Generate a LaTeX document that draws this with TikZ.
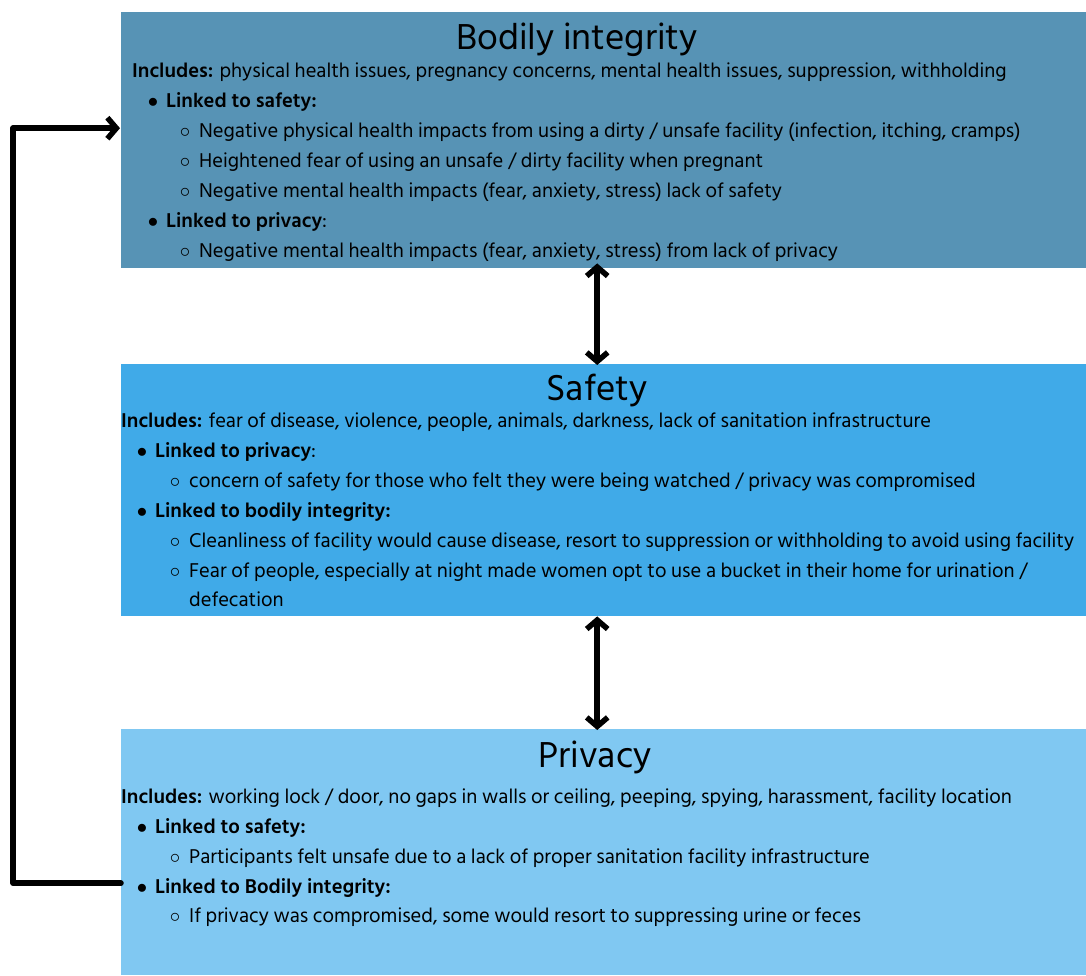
\documentclass[tikz,border=0pt]{standalone}
\usepackage{fontspec}
\setmainfont{Hind Siliguri}
\usepackage{tikz}
\usetikzlibrary{arrows.meta,positioning}
\usepackage{xcolor}
\definecolor{bodycol}{HTML}{5793B5}
\definecolor{safecol}{HTML}{40AAE8}
\definecolor{privcol}{HTML}{80C8F2}

\begin{document}
\begin{tikzpicture}[x=1pt, y=-1pt, every node/.style={inner sep=0pt, font=\fontsize{20.5}{24}\selectfont}]
\tikzset{area/.style={anchor=north west, minimum width=965pt, minimum height=#1, draw=none}}
\tikzset{head/.style={font=\fontsize{37}{40}\selectfont}}
\tikzset{line/.style={anchor=mid west}}
\tikzset{conn/.style={line width=5.5pt, line cap=round, line join=round}}
\tikzset{tip/.style={-{Straight Barb[length=9pt,width=21pt,line width=5.5pt]}}}
\tikzset{dtip/.style={{Straight Barb[length=9pt,width=21pt,line width=5.5pt]}-{Straight Barb[length=9pt,width=21pt,line width=5.5pt]}}}
\newcommand{\lva}{\llap{$\bullet$\hspace{8pt}}}
\newcommand{\lvb}{\llap{$\circ$\hspace{9pt}}}
\useasboundingbox (0,0) rectangle (1086,975);
% the three boxes
\node[area=256pt, fill=bodycol] (bi) at (121,12) {};
\node[area=252pt, fill=safecol] (sf) at (121,364) {};
\node[area=246pt, fill=privcol] (pr) at (121,729) {};
% bodily integrity
\node[head] (bi-h) at (577,40) {Bodily integrity};
\node[line] (bi-i) at (132,75) {\textbf{Includes:} physical health issues, pregnancy concerns, mental health issues, suppression, withholding};
\node[line] (bi-a) at (166,105) {\lva\textbf{Linked to safety:}};
\node[line] (bi-a1) at (199,135) {\lvb Negative physical health impacts from using a dirty / unsafe facility (infection, itching, cramps)};
\node[line] (bi-a2) at (199,165) {\lvb Heightened fear of using an unsafe / dirty facility when pregnant};
\node[line] (bi-a3) at (199,195) {\lvb Negative mental health impacts (fear, anxiety, stress) lack of safety};
\node[line] (bi-b) at (166,225) {\lva\textbf{Linked to privacy}:};
\node[line] (bi-b1) at (199,255) {\lvb Negative mental health impacts (fear, anxiety, stress) from lack of privacy};
% safety
\node[head] (sf-h) at (597,391) {Safety};
\node[line] (sf-i) at (121,425) {\textbf{Includes:} fear of disease, violence, people, animals, darkness, lack of sanitation infrastructure};
\node[line] (sf-a) at (155,455) {\lva\textbf{Linked to privacy}:};
\node[line] (sf-a1) at (189,485) {\lvb concern of safety for those who felt they were being watched / privacy was compromised};
\node[line] (sf-b) at (155,515) {\lva\textbf{Linked to bodily integrity:}};
\node[line] (sf-b1) at (189,545) {\lvb Cleanliness of facility would cause disease, resort to suppression or withholding to avoid using facility};
\node[line] (sf-b2) at (189,575) {\lvb Fear of people, especially at night made women opt to use a bucket in their home for urination /};
\node[line] (sf-b3) at (189,604) {defecation};
% privacy
\node[head] (pr-h) at (595,757) {Privacy};
\node[line] (pr-i) at (121,801) {\textbf{Includes:} working lock / door, no gaps in walls or ceiling, peeping, spying, harassment, facility location};
\node[line] (pr-a) at (155,831) {\lva\textbf{Linked to safety:}};
\node[line] (pr-a1) at (189,861) {\lvb Participants felt unsafe due to a lack of proper sanitation facility infrastructure};
\node[line] (pr-b) at (155,891) {\lva\textbf{Linked to Bodily integrity:}};
\node[line] (pr-b1) at (189,920) {\lvb If privacy was compromised, some would resort to suppressing urine or feces};
% connectors
\draw[conn, dtip] ([xshift=-6.5pt, yshift=5pt]bi.south) -- ([xshift=-6.5pt, yshift=-1pt]sf.north);
\draw[conn, dtip] ([xshift=-6.5pt]sf.south) -- ([xshift=-6.5pt, yshift=-1pt]pr.north);
\draw[conn, tip] ([yshift=-31pt]pr.west) -- ++(-108,0) |- ([yshift=12pt, xshift=-1pt]bi.west);
\end{tikzpicture}
\end{document}
